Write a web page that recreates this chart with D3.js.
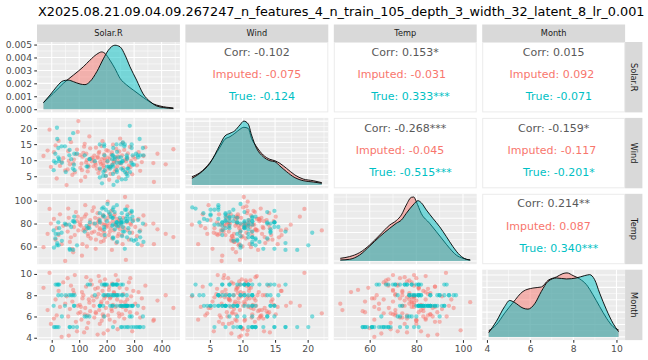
<!DOCTYPE html>
<html><head><meta charset="utf-8">
<script src="https://cdn.jsdelivr.net/npm/d3@7"></script>
<style>body{margin:0;background:#fff}svg{display:block}text{font-family:"DejaVu Sans",sans-serif}</style>
</head><body><svg id="c" width="648" height="360"></svg>
<script>
const titleText = "X2025.08.21.09.04.09.267247_n_features_4_n_train_105_depth_3_width_32_latent_8_lr_0.001";
const variables = ["Solar.R", "Wind", "Temp", "Month"];
const groups = ["Imputed", "True"];
const groupColors = ["#F8766D", "#00BFC4"];

// Imputed rows
const impSolar = [-30,-8,-15,-3,18,36,49,8,25,42,30,14,54,97,62,70,58,88,75,92,66,81,95,84,60,78,104,112,118,125,131,137,142,108,115,122,128,135,140,146,102,110,120,133,148,126,106,152,155,158,161,164,167,170,173,176,179,182,185,188,191,194,197,199,153,160,168,175,181,186,192,196,171,189,202,205,208,211,214,217,220,223,226,229,232,235,238,241,244,247,249,204,212,219,227,233,240,246,209,252,256,260,264,267,270,273,277,281,285,289,293,297,258,275,286,304,310,316,322,328,334,341,370,372,385,443,415];
const impWind = [11.3,19.5,13,7.9,4.3,9.5,6.8,12.5,16,10.6,8.2,14.6,2.24,22.17,9.8,15.6,7.1,11.9,5.4,13.3,8.7,10.2,18.8,6.2,12.8,9.0,7.6,11.1,14.2,9.3,6.5,17.4,10.5,8.9,12.3,4.8,10.0,7.9,13.7,9.6,11.6,6.9,15.1,8.4,10.8,12.0,3.6,8.1,11.4,9.2,13.9,7.3,10.7,6.0,12.6,9.5,8.8,10.3,15.9,7.7,11.8,9.9,5.1,13.1,10.1,8.5,11.0,7.0,14.4,9.0,10.6,6.6,12.2,8.3,9.4,12.9,7.4,10.4,5.7,11.7,8.6,14.8,9.7,6.4,10.9,13.5,8.0,11.2,4.6,9.1,16.7,10.8,7.9,12.4,9.3,7.2,10.0,12.7,3.9,8.9,11.5,7.5,13.2,10.2,9.6,6.1,12.1,8.3,14.1,9.8,5.6,11.0,15.4,10.6,7.8,10.4,8.4,12.5,6.7,9.4,11.3,14.0,9.1,3.2,12.0,13.4,8.7];
const impTemp = [59.4,92.7,71,80,76,62,47.4,84,70,78,88,66,79,74,85,68,73,90,58,82,64,77,86,70,93,55,81,62,76,88,71,79,67,84,74,96,60,77,83,72,79,52,86,69,91,75,78,80,73,85,66,78,89,71,82,76,64,80,74,87,79,68,83,77,94,58,81,75,70,86,72,79,84,65,78,85,70,80,76,91,67,82,74,88,79,63,84,77,71,81,75,99,73,57,86,79,69,83,88,78,70,85,76,103.1,48.3,81,74,66,89,79,72,83,62,95,80,77,69,84,74,61,87,79,80,62,75,68.2,71];
const impMonth = [8.7,10.1,6.6,5.3,6.1,4.08,7.2,5.8,8.4,9.2,6.9,7.6,7.9,6.3,4.2,8.9,9.6,5.5,7.4,4.6,6.7,8.2,7.0,9.9,6.0,8.5,6.4,7.7,4.5,8.8,6.1,7.3,9.4,5.7,8.0,6.8,4.9,7.6,6.5,9.0,7.1,8.3,6.2,5.4,7.9,9.7,6.9,7.5,5.9,8.6,6.3,7.8,4.3,8.1,6.6,9.3,7.2,5.6,8.4,6.0,7.7,9.5,6.8,8.0,7.0,6.4,8.7,5.3,7.4,6.2,8.9,7.9,9.8,4.4,7.3,6.1,8.5,5.7,7.8,6.7,9.1,7.1,8.3,5.5,6.9,8.0,7.6,9.4,6.3,8.7,7.0,4.7,7.7,6.5,8.2,9.9,4.8,6.0,8.8,7.4,6.2,8.1,5.8,7.35,6.6,8.6,7.0,9.2,6.4,7.9,4.6,8.4,6.9,7.6,9.6,7.2,6.3,8.3,5.9,7.7,6.8,8.9,5.6,5.7,7.5,6.8,8.0];

// True rows
const trueSolar = [8,13,19,25,65,66,78,92,223,252,256,266,274,279,290,299,307,313,320,322,334,
  37,127,137,120,332,191,284,291,
  7,48,81,82,175,175,175,187,213,220,223,236,248,253,254,260,264,267,269,272,274,275,276,285,291,294,295,314,
  24,36,51,64,71,77,83,157,188,192,203,207,215,222,225,229,237,238,244,255,259,273,
  14,20,24,27,131,139,183,191,193,197,201,220,223,224,230,236,237,238,252,259];
const trueWind = [9.7,12,20.1,9.7,13.2,16.6,18.4,12,5.7,14.9,9.7,14.9,10.9,7.4,9.2,8.6,12,11.5,16.6,11.5,11.5,
  9.2,8.0,10.3,11.5,13.8,14.9,20.7,13.8,
  6.9,14.3,8.6,12,4.6,7.4,14.9,5.1,7.4,11.5,8.0,9.2,9.2,7.4,9.2,6.9,14.3,6.3,4.1,5.7,10.3,7.4,5.1,6.3,14.9,8.6,11.5,10.9,
  13.8,14.3,6.3,11.5,10.3,7.4,6.9,9.7,6.3,11.5,9.7,8.0,8.0,8.6,2.3,10.3,6.3,3.4,10.9,4.0,15.5,11.5,
  9.2,16.6,10.9,10.3,8.0,10.3,2.8,14.3,6.9,5.1,8.0,10.3,11.5,13.8,10.9,14.9,6.9,12.6,10.9,9.7];
const trueTemp = [59,67,61,61,58,57,57,61,79,81,69,58,68,76,66,65,66,62,73,68,64,
  65,78,76,73,80,77,72,90,
  74,80,82,86,83,89,81,87,88,85,85,81,85,83,81,81,73,92,84,92,82,86,88,84,91,86,82,83,
  81,72,79,79,77,82,81,80,94,86,97,90,86,92,94,90,96,81,78,89,77,82,
  71,63,71,76,76,81,93,75,70,92,82,78,68,67,75,81,78,64,80,73];
const trueMonth = [5,5,5,5,5,5,5,5,5,5,5,5,5,5,5,5,5,5,5,5,5,
  6,6,6,6,6,6,6,6,
  7,7,7,7,7,7,7,7,7,7,7,7,7,7,7,7,7,7,7,7,7,7,7,7,7,7,7,7,
  8,8,8,8,8,8,8,8,8,8,8,8,8,8,8,8,8,8,8,8,8,8,
  9,9,9,9,9,9,9,9,9,9,9,9,9,9,9,9,9,9,9,9];

// Densities: [value, density]
const solarDensImputed = [[-30,0.00051],[6,0.00123],[42,0.0020],[79,0.00264],[115,0.00328],[139,0.00379],[164,0.00425],[182,0.00443],[194,0.00431],[212,0.00379],[230,0.00315],[249,0.00238],[273,0.00187],[297,0.00148],[321,0.0011],[346,0.00072],[370,0.00041],[394,0.00025],[419,0.00015],[443,0.0001]];
const solarDensTrue = [[-30,0.00051],[-6,0.0011],[18,0.00174],[42,0.0022],[60,0.00225],[79,0.00213],[103,0.00195],[121,0.0019],[139,0.00213],[164,0.0029],[188,0.0039],[206,0.00456],[230,0.00495],[249,0.00482],[267,0.00418],[285,0.00328],[309,0.00225],[333,0.00118],[358,0.00059],[382,0.00025],[406,0.00013],[443,0.00005]];
const windDensImputed = [[2.24,0.0157],[3.47,0.0233],[5.0,0.042],[6.53,0.0708],[7.3,0.0859],[8.07,0.0907],[8.83,0.0971],[9.6,0.1046],[10.21,0.1084],[10.88,0.1064],[11.39,0.0877],[12.16,0.072],[13.18,0.0564],[14.2,0.0484],[14.97,0.0457],[15.74,0.0408],[16.76,0.0314],[18.04,0.019],[19.31,0.0114],[20.85,0.0083],[22.17,0.0046]];
const windDensTrue = [[2.24,0.0127],[3.47,0.0221],[5.0,0.0408],[6.53,0.0752],[7.3,0.092],[8.07,0.0971],[8.83,0.102],[9.6,0.1127],[10.21,0.12],[10.88,0.1146],[11.39,0.094],[12.16,0.069],[13.18,0.0533],[14.2,0.0457],[14.97,0.0439],[15.74,0.0358],[16.76,0.0252],[18.04,0.0139],[19.31,0.0083],[20.85,0.0058],[22.17,0.0034]];
const tempDensImputed = [[47.4,0.0019],[51.4,0.0031],[55.7,0.0059],[60,0.0113],[64.3,0.0183],[68.6,0.0253],[71.4,0.0284],[73.6,0.0324],[75.7,0.0394],[77.9,0.0448],[78.9,0.045],[80,0.0417],[82.1,0.0335],[85.7,0.0265],[88.6,0.0206],[91.4,0.0148],[94.3,0.0089],[97.1,0.0042],[100,0.0019],[103.1,0.0007]];
const tempDensTrue = [[47.4,0.0007],[51.4,0.0012],[55.7,0.0042],[60,0.0105],[64.3,0.0171],[68.6,0.023],[71.4,0.0265],[73.6,0.0288],[75.7,0.0335],[78.6,0.0394],[80.7,0.0424],[82.1,0.041],[84.3,0.0359],[87.1,0.03],[90,0.0241],[92.9,0.0171],[95.7,0.0101],[98.6,0.0042],[101.4,0.0012],[103.1,0.0007]];
const monthDensImputed = [[4.08,0.0252],[4.43,0.0484],[4.82,0.0959],[5.21,0.1388],[5.67,0.1836],[6.13,0.1973],[6.52,0.2015],[6.83,0.2283],[7.22,0.2421],[7.52,0.2556],[7.71,0.2584],[7.99,0.2475],[8.3,0.234],[8.61,0.2109],[8.91,0.1703],[9.22,0.1227],[9.54,0.0754],[9.84,0.0416],[10.1,0.0281]];
const monthDensTrue = [[4.08,0.0172],[4.43,0.0619],[4.82,0.1227],[5.05,0.1472],[5.28,0.1388],[5.67,0.1162],[5.9,0.1121],[6.21,0.1336],[6.52,0.1836],[6.83,0.2241],[7.22,0.2379],[7.68,0.234],[8.14,0.2379],[8.53,0.2475],[8.76,0.2514],[8.99,0.2311],[9.22,0.1771],[9.54,0.1092],[9.84,0.0551],[10.1,0.0211]];

// Correlations for upper panels, pairs in order (1,2),(1,3),(1,4),(2,3),(2,4),(3,4)
const corrPairs = [[0,1],[0,2],[0,3],[1,2],[1,3],[2,3]];
const corrOverall = ["-0.102","0.153*","0.015","-0.268***","-0.159*","0.214**"];
const corrImputed = ["-0.075","-0.031","0.092","-0.045","-0.117","0.087"];
const corrTrue = ["-0.124","0.333***","-0.071","-0.515***","-0.201*","0.340***"];

// Tick values
const densTicks = [0,0.001,0.002,0.003,0.004,0.005];
const solarTicks = [0,100,200,300,400];
const windTicks = [5,10,15,20];
const tempTicks = [60,80,100];
const monthTicks = [4,6,8,10];

// ---------- layout ----------
const W = 648, H = 360;
const px0 = 37, pw = 142.9, gapX = 5.5, py0 = 42, ph = 70.4, gapY = 5.5;
const stripH = 17.5, stripW = 17.3;
const panelX = i => px0 + i * (pw + gapX);
const panelY = j => py0 + j * (ph + gapY);

const svg = d3.select("#c");
svg.append("rect").attr("width", W).attr("height", H).attr("fill", "#fff");
const title = svg.append("text").attr("x", 38).attr("y", 16).attr("font-size", 13.2).attr("fill", "#000").text(titleText);
const natural = title.node().getComputedTextLength();
if (natural > 606) title.attr("font-size", 13.2 * 606 / natural);

const impData = [impSolar, impWind, impTemp, impMonth];
const trueData = [trueSolar, trueWind, trueTemp, trueMonth];
const densImp = [solarDensImputed, windDensImputed, tempDensImputed, monthDensImputed];
const densTrue = [solarDensTrue, windDensTrue, tempDensTrue, monthDensTrue];
const varTicks = [solarTicks, windTicks, tempTicks, monthTicks];

function expand(ext) { const r = ext[1] - ext[0]; return [ext[0] - 0.05 * r, ext[1] + 0.05 * r]; }
const domains = variables.map((v, i) => expand(d3.extent(impData[i].concat(trueData[i]))));
const xScales = variables.map((v, i) => d3.scaleLinear().domain(domains[i]).range([panelX(i), panelX(i) + pw]));
const yScales = variables.map((v, j) => d3.scaleLinear().domain(domains[j]).range([panelY(j) + ph, panelY(j)]));
const densY = variables.map((v, j) => {
  const mx = d3.max(densImp[j].concat(densTrue[j]), d => d[1]);
  return d3.scaleLinear().domain(expand([0, mx])).range([panelY(j) + ph, panelY(j)]);
});

function minorOf(major, dom) {
  const step = major[1] - major[0];
  const out = [];
  for (let k = -1; k < major.length; k++) {
    const m = major[0] + (k + 0.5) * step;
    if (m > dom[0] && m < dom[1]) out.push(m);
  }
  return out;
}

function drawGrid(g, xs, ys, xMaj, yMaj, x0, y0) {
  g.append("rect").attr("x", x0).attr("y", y0).attr("width", pw).attr("height", ph).attr("fill", "#EBEBEB");
  const xd = xs.domain(), yd = ys.domain();
  minorOf(xMaj, xd).forEach(v => g.append("line").attr("x1", xs(v)).attr("x2", xs(v)).attr("y1", y0).attr("y2", y0 + ph).attr("stroke", "#fff").attr("stroke-width", 0.53));
  minorOf(yMaj, yd).forEach(v => g.append("line").attr("y1", ys(v)).attr("y2", ys(v)).attr("x1", x0).attr("x2", x0 + pw).attr("stroke", "#fff").attr("stroke-width", 0.53));
  xMaj.filter(v => v >= xd[0] && v <= xd[1]).forEach(v => g.append("line").attr("x1", xs(v)).attr("x2", xs(v)).attr("y1", y0).attr("y2", y0 + ph).attr("stroke", "#fff").attr("stroke-width", 1.07));
  yMaj.filter(v => v >= yd[0] && v <= yd[1]).forEach(v => g.append("line").attr("y1", ys(v)).attr("y2", ys(v)).attr("x1", x0).attr("x2", x0 + pw).attr("stroke", "#fff").attr("stroke-width", 1.07));
}

for (let j = 0; j < 4; j++) {
  for (let i = 0; i < 4; i++) {
    const g = svg.append("g");
    const x0 = panelX(i), y0 = panelY(j);
    if (i === j) {
      const ys = densY[j];
      const dTicks = j === 0 ? densTicks : ys.ticks(5);
      drawGrid(g, xScales[i], ys, varTicks[i], dTicks, x0, y0);
      [densImp[i], densTrue[i]].forEach((dd, gi) => {
        const area = d3.area().x(d => xScales[i](d[0])).y0(ys(0)).y1(d => ys(d[1])).curve(d3.curveMonotoneX);
        const line = d3.line().x(d => xScales[i](d[0])).y(d => ys(d[1])).curve(d3.curveMonotoneX);
        g.append("path").attr("d", area(dd)).attr("fill", groupColors[gi]).attr("fill-opacity", 0.5);
        g.append("path").attr("d", line(dd)).attr("fill", "none").attr("stroke", "#000").attr("stroke-width", 0.9);
      });
    } else if (i < j) {
      drawGrid(g, xScales[i], yScales[j], varTicks[i], varTicks[j], x0, y0);
      [impData, trueData].forEach((data, gi) => {
        const n = Math.min(data[i].length, data[j].length);
        for (let k = 0; k < n; k++) {
          g.append("circle").attr("cx", xScales[i](data[i][k])).attr("cy", yScales[j](data[j][k])).attr("r", 2.15)
            .attr("fill", groupColors[gi]).attr("fill-opacity", 0.5);
        }
      });
    } else {
      g.append("rect").attr("x", x0 + 0.5).attr("y", y0 + 0.5).attr("width", pw - 1).attr("height", ph - 1)
        .attr("fill", "#fff").attr("stroke", "#EBEBEB").attr("stroke-width", 1);
      const idx = corrPairs.findIndex(p => p[0] === j && p[1] === i);
      const cx = x0 + pw / 2;
      const vals = [corrImputed[idx], corrTrue[idx]];
      const labW = d3.max(groups, s => s.length), valW = d3.max(vals, s => s.length);
      const lines = groups.map((lab, gi) => " ".repeat(labW - lab.length) + lab + ": " + vals[gi] + " ".repeat(valW - vals[gi].length));
      g.append("text").attr("x", cx).attr("y", y0 + 13.6).attr("text-anchor", "middle").attr("font-size", 11)
        .attr("fill", "#595959").style("white-space", "pre").text("Corr: " + corrOverall[idx]);
      lines.forEach((t, gi) => {
        g.append("text").attr("x", cx).attr("y", y0 + 35.9 + gi * 22.3).attr("text-anchor", "middle").attr("font-size", 11)
          .attr("fill", groupColors[gi]).style("white-space", "pre").text(t);
      });
    }
  }
}

// strips
variables.forEach((v, i) => {
  svg.append("rect").attr("x", panelX(i)).attr("y", py0 - stripH).attr("width", pw).attr("height", stripH).attr("fill", "#D9D9D9");
  svg.append("text").attr("x", panelX(i) + pw / 2).attr("y", py0 - stripH / 2 + 3).attr("text-anchor", "middle")
    .attr("font-size", 8.2).attr("fill", "#1A1A1A").text(v);
  const rx = panelX(3) + pw;
  svg.append("rect").attr("x", rx).attr("y", panelY(i)).attr("width", stripW).attr("height", ph).attr("fill", "#D9D9D9");
  svg.append("text").attr("transform", `translate(${rx + stripW / 2 - 3},${panelY(i) + ph / 2}) rotate(90)`)
    .attr("text-anchor", "middle").attr("font-size", 8.2).attr("fill", "#1A1A1A").text(v);
});

// axes
function styleAxis(g) {
  g.select(".domain").remove();
  g.selectAll(".tick line").attr("stroke", "#333").attr("stroke-width", 1.07);
  g.selectAll(".tick text").attr("fill", "#4D4D4D").attr("font-size", 9.2).attr("font-family", '"DejaVu Sans",sans-serif');
}
for (let j = 0; j < 4; j++) {
  const ys = j === 0 ? densY[0] : yScales[j];
  const tv = j === 0 ? densTicks : varTicks[j];
  const ax = d3.axisLeft(ys).tickValues(tv).tickSize(2.75).tickPadding(2.2).tickFormat(j === 0 ? d3.format(".3f") : d3.format("d"));
  svg.append("g").attr("transform", `translate(${px0},0)`).call(ax).call(styleAxis);
}
for (let i = 0; i < 4; i++) {
  const ax = d3.axisBottom(xScales[i]).tickValues(varTicks[i]).tickSize(2.75).tickPadding(2.2).tickFormat(d3.format("d"));
  svg.append("g").attr("transform", `translate(0,${panelY(3) + ph})`).call(ax).call(styleAxis);
}
</script></body></html>
